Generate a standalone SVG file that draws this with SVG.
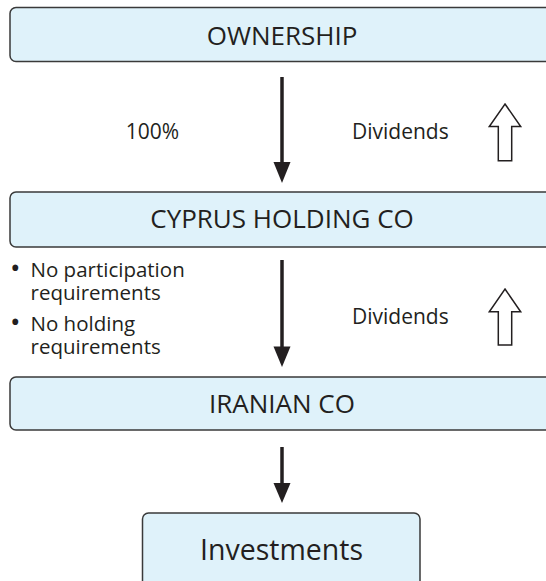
<svg xmlns="http://www.w3.org/2000/svg" width="546" height="581" viewBox="0 0 546 581">
  <style>
    .box { fill: #dff2fa; stroke: #3a3a3a; stroke-width: 1.5; }
    .t { font-family: "Open Sans", "Liberation Sans", sans-serif; fill: #231f20; }
    .title { font-size: 26px; text-anchor: middle; }
    .lbl { font-size: 21px; }
    .bul { font-size: 28px; }
    .shaft { stroke: #231f20; stroke-width: 3.5; fill: none; }
    .head { fill: #231f20; }
    .hollow { fill: #ffffff; stroke: #231f20; stroke-width: 1.5; stroke-linejoin: miter; }
  </style>

  <g id="node-ownership">
    <rect class="box" x="10" y="7.5" width="570" height="54" rx="6"/>
    <text class="t title" x="282" y="44.5">OWNERSHIP</text>
  </g>

  <g id="node-cyprus">
    <rect class="box" x="10" y="192" width="570" height="55" rx="6"/>
    <text class="t title" x="282" y="227.5">CYPRUS HOLDING CO</text>
  </g>

  <g id="node-iranian">
    <rect class="box" x="10" y="377" width="570" height="53" rx="6"/>
    <text class="t title" x="282" y="413">IRANIAN CO</text>
  </g>

  <g id="node-investments">
    <rect class="box" x="142.5" y="513" width="277.5" height="80" rx="6"/>
    <text class="t" x="281.5" y="560" font-size="28.5" text-anchor="middle">Investments</text>
  </g>

  <g id="connectors">
    <line class="shaft" x1="282" y1="77" x2="282" y2="165"/>
    <polygon class="head" points="273.5,162 290.5,162 282,183"/>
    <line class="shaft" x1="282" y1="260" x2="282" y2="349"/>
    <polygon class="head" points="273.5,346.5 290.5,346.5 282,367"/>
    <line class="shaft" x1="282" y1="447" x2="282" y2="485"/>
    <polygon class="head" points="273.5,483 290.5,483 282,503"/>

    <polygon class="hollow" points="505,104 520.7,126.5 511.7,126.5 511.7,160.7 498.3,160.7 498.3,126.5 489.3,126.5"/>
    <polygon class="hollow" points="505,289 520.7,311.7 511.7,311.7 511.7,345 498.3,345 498.3,311.7 489.3,311.7"/>
  </g>

  <g id="labels">
    <text class="t lbl" x="152.5" y="139" text-anchor="middle">100%</text>
    <text class="t lbl" x="352" y="139">Dividends</text>
    <text class="t lbl" x="352" y="323.5">Dividends</text>
    <g font-size="20.5">
      <text class="t" y="276.5"><tspan class="bul" x="10" dy="1">•</tspan><tspan x="30.5" dy="-1">No participation</tspan></text>
      <text class="t" x="30.5" y="299.5">requirements</text>
      <text class="t" y="331"><tspan class="bul" x="10" dy="1">•</tspan><tspan x="30.5" dy="-1">No holding</tspan></text>
      <text class="t" x="30.5" y="354">requirements</text>
    </g>
  </g>
</svg>
